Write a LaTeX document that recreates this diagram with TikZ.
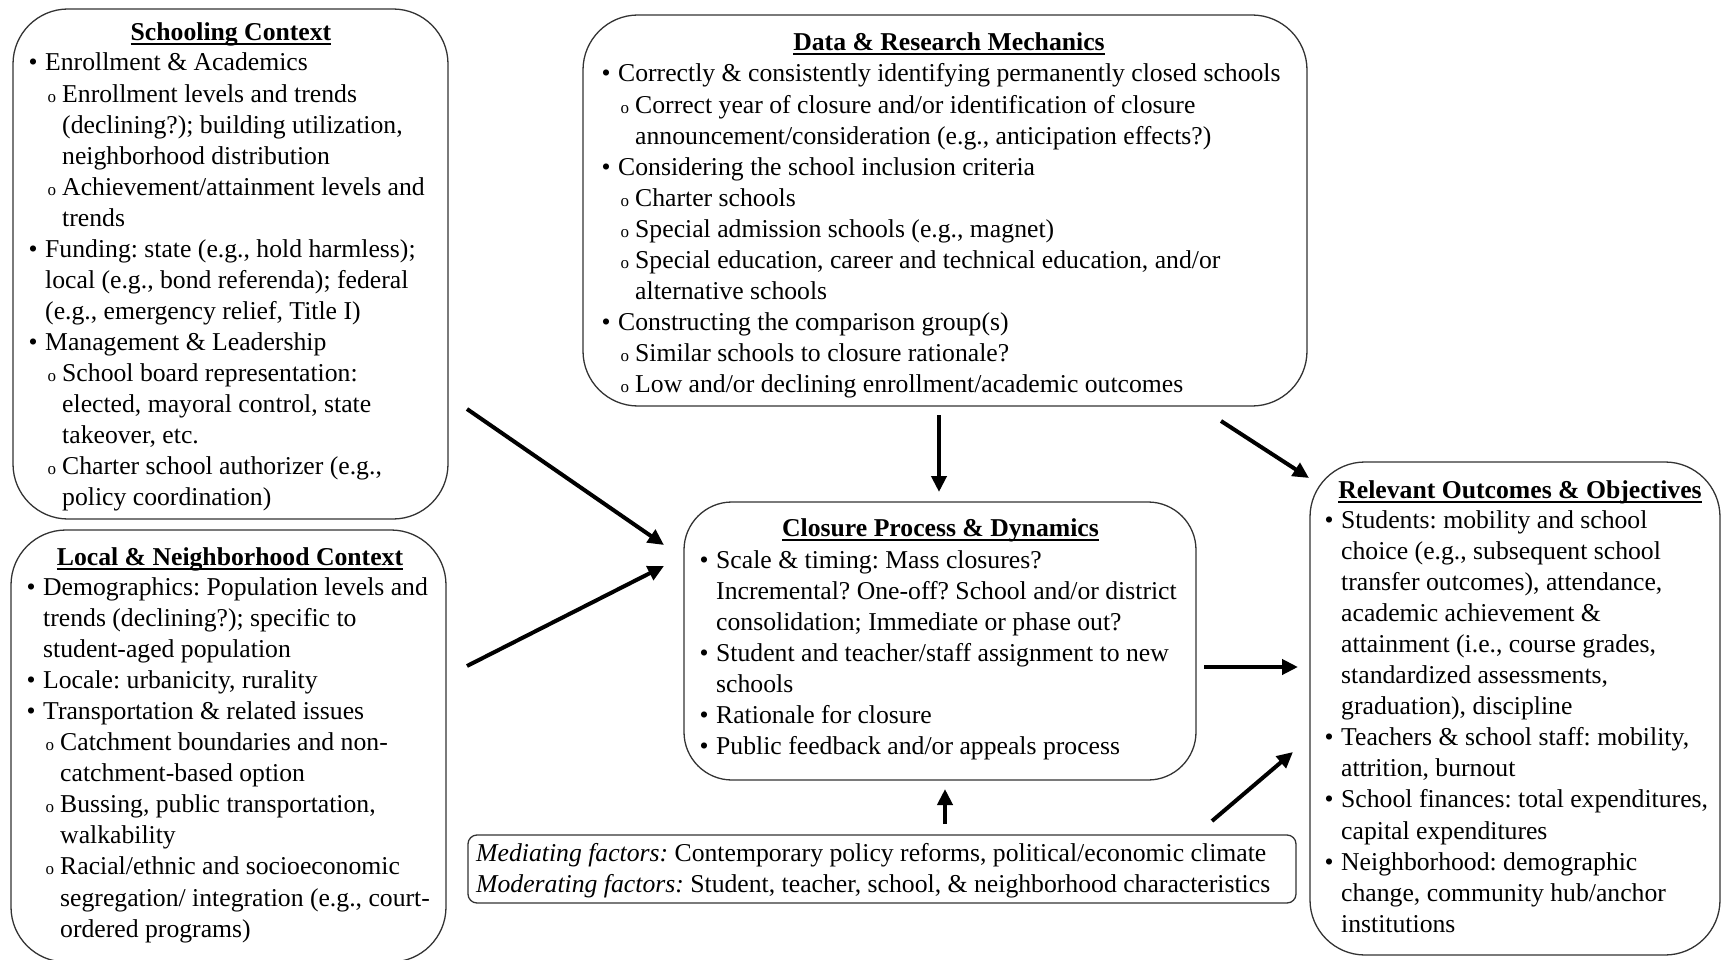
\documentclass[tikz,border=0pt]{standalone}
\usepackage{fontspec}
\setmainfont{Liberation Serif}
\usetikzlibrary{arrows.meta}
\frenchspacing
\newlength\subind \setlength\subind{17pt}
\newcommand{\ia}{\par\leftskip=0pt\noindent\llap{\textbullet\hspace{7.5pt}}}
\newcommand{\ib}{\par\leftskip=\subind\noindent\llap{{\fontsize{17}{17}\selectfont o}\hspace{6pt}}}
\newcommand{\ttl}[1]{\setbox0\hbox{\textbf{#1}}\rlap{\rule[-4.5pt]{\wd0}{1.6pt}}\box0}
\newcommand{\blk}[2]{\vtop{\hsize=#1\parindent=0pt\parskip=0pt\frenchspacing #2\par}}
\begin{document}
\begin{tikzpicture}[x=1pt,y=-1pt,
  box/.style={draw=black!80, line width=1.3pt, rounded corners=#1, inner sep=0pt},
  box/.default=55pt,
  body/.style={anchor=base west, inner sep=0pt, font=\fontsize{25.7}{31.05}\selectfont},
  head/.style={anchor=base, inner sep=0pt, font=\fontsize{25.7}{31.05}\selectfont},
  arr/.style={line width=4pt, -{Triangle[length=16pt,width=15pt]}}]
\useasboundingbox (0,0) rectangle (1722,960);

% boxes
\node[box, minimum width=435pt, minimum height=510pt] (sc) at (230.5,264) {};
\node[box, minimum width=435pt, minimum height=432pt] (lc) at (228.5,746) {};
\node[box, minimum width=724pt, minimum height=391pt] (dr) at (945,210.5) {};
\node[box=48pt, minimum width=512pt, minimum height=278pt] (cp) at (940,641) {};
\node[box=9pt, minimum width=828pt, minimum height=68pt] (mf) at (882,869) {};
\node[box, minimum width=410pt, minimum height=493pt] (ro) at (1515,708.5) {};

% titles
\node[head] (sct) at (231,40.5) {\ttl{Schooling Context}};
\node[head] (lct) at (230,565.5) {\ttl{Local \& Neighborhood Context}};
\node[head] (drt) at (949,50.5) {\ttl{Data \& Research Mechanics}};
\node[head] (cpt) at (940.5,536.5) {\ttl{Closure Process \& Dynamics}};
\node[head] (rot) at (1520,498.5) {\ttl{Relevant Outcomes \& Objectives}};

% bodies
\node[body] (scx) at (45,71) {\blk{400pt}{%
\ia Enrollment \& Academics
\ib Enrollment levels and trends\\ (declining?); building utilization,\\ neighborhood distribution
\ib Achievement/attainment levels and\\ trends
\ia Funding: state (e.g., hold harmless);\\ local (e.g., bond referenda); federal\\ (e.g., emergency relief, Title I)
\ia Management \& Leadership
\ib School board representation:\\ elected, mayoral control, state\\ takeover, etc.
\ib Charter school authorizer (e.g.,\\ policy coordination)}};

\node[body] (lcx) at (43,595.5) {\blk{400pt}{%
\ia Demographics: Population levels and\\ trends (declining?); specific to\\ student-aged population
\ia Locale: urbanicity, rurality
\ia Transportation \& related issues
\ib Catchment boundaries and non-\\ catchment-based option
\ib Bussing, public transportation,\\ walkability
\ib Racial/ethnic and socioeconomic\\ segregation/ integration (e.g., court-\\ ordered programs)}};

\node[body] (drx) at (618,82) {\blk{700pt}{%
\ia Correctly \& consistently identifying permanently closed schools
\ib Correct year of closure and/or identification of closure\\ announcement/consideration (e.g., anticipation effects?)
\ia Considering the school inclusion criteria
\ib Charter schools
\ib Special admission schools (e.g., magnet)
\ib Special education, career and technical education, and/or\\ alternative schools
\ia Constructing the comparison group(s)
\ib Similar schools to closure rationale?
\ib Low and/or declining enrollment/academic outcomes}};

\node[body] (cpx) at (716,568.5) {\blk{480pt}{%
\ia Scale \& timing: Mass closures?\\ Incremental? One-off? School and/or district\\ consolidation; Immediate or phase out?
\ia Student and teacher/staff assignment to new\\ schools
\ia Rationale for closure
\ia Public feedback and/or appeals process}};

\node[body] (mfx) at (476,861.5) {\blk{820pt}{%
\textit{Mediating factors:} Contemporary policy reforms, political/economic climate\\
\textit{Moderating factors:} Student, teacher, school, \& neighborhood characteristics}};

\node[body] (rox) at (1341,528.5) {\blk{380pt}{%
\ia Students: mobility and school\\ choice (e.g., subsequent school\\ transfer outcomes), attendance,\\ academic achievement \&\\ attainment (i.e., course grades,\\ standardized assessments,\\ graduation), discipline
\ia Teachers \& school staff: mobility,\\ attrition, burnout
\ia School finances: total expenditures,\\ capital expenditures
\ia Neighborhood: demographic\\ change, community hub/anchor\\ institutions}};

% arrow end points
\coordinate (a1s) at (467,409);
\coordinate (a1e) at (664,545);
\coordinate (a2s) at (467,666);
\coordinate (a2e) at (664,566);
\coordinate (a3s) at (939,415);
\coordinate (a3e) at (939,492);
\coordinate (a4s) at (1221,421);
\coordinate (a4e) at (1309,478);
\coordinate (a5s) at (1204,667);
\coordinate (a5e) at (1298,667);
\coordinate (a6s) at (1212,821);
\coordinate (a6e) at (1293,752);
\coordinate (a7s) at (945,824);
\coordinate (a7e) at (945,789);

\draw[arr] (a1s) -- (a1e);
\draw[arr] (a2s) -- (a2e);
\draw[arr] (a3s) -- (a3e);
\draw[arr] (a4s) -- (a4e);
\draw[arr] (a5s) -- (a5e);
\draw[arr] (a6s) -- (a6e);
\draw[arr] (a7s) -- (a7e);
\end{tikzpicture}
\end{document}
